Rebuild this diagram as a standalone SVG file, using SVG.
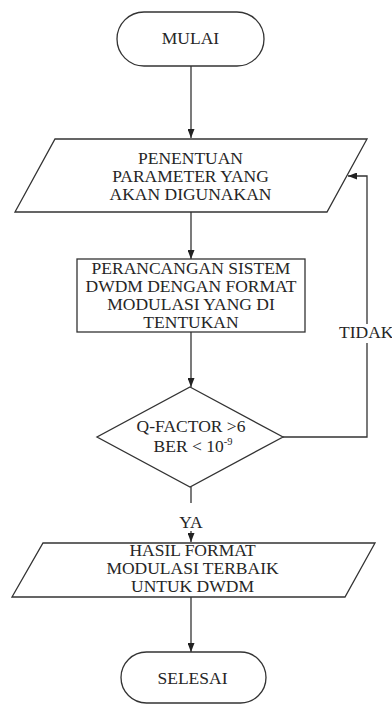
<svg xmlns="http://www.w3.org/2000/svg" width="392" height="704" viewBox="0 0 392 704">
<style>
  .shape { fill: #ffffff; stroke: #333333; stroke-width: 1.3; }
  .line { fill: none; stroke: #333333; stroke-width: 1.3; }
  .txt { font-family: "Liberation Serif", "Times New Roman", serif; font-size: 17.5px; fill: #262626; text-anchor: middle; }
  .lbl { font-family: "Liberation Serif", "Times New Roman", serif; font-size: 17.5px; fill: #262626; }
</style>
<defs>
  <marker id="arrow" markerUnits="userSpaceOnUse" markerWidth="9" markerHeight="7" refX="9" refY="3.5" orient="auto">
    <path d="M0,0 L9,3.5 L0,7 z" fill="#222222"/>
  </marker>
</defs>
<rect width="392" height="704" fill="#ffffff"/>

<g id="connectors">
  <line class="line" x1="191" y1="66" x2="191" y2="138" marker-end="url(#arrow)"/>
  <line class="line" x1="191" y1="212" x2="191" y2="259" marker-end="url(#arrow)"/>
  <line class="line" x1="191" y1="332" x2="191" y2="387" marker-end="url(#arrow)"/>
  <line class="line" x1="191" y1="487" x2="191" y2="503"/>
  <line class="line" x1="191" y1="531" x2="191" y2="542" marker-end="url(#arrow)"/>
  <line class="line" x1="191" y1="597" x2="191" y2="652" marker-end="url(#arrow)"/>
  <polyline class="line" points="283,437 367,437 367,343"/>
  <polyline class="line" points="367,324 367,176 348,176" marker-end="url(#arrow)"/>
  <text class="lbl" x="191" y="528" text-anchor="middle">YA</text>
  <text class="lbl" x="339" y="338">TIDAK</text>
</g>

<g id="mulai">
  <rect class="shape" x="117" y="12" width="147" height="54" rx="27" ry="27"/>
  <text class="txt" x="190.5" y="44">MULAI</text>
</g>

<g id="penentuan">
  <polygon class="shape" points="55,139 367,139 327,212 15,212"/>
  <text class="txt" x="190.5" y="163.5">PENENTUAN</text>
  <text class="txt" x="190.5" y="182">PARAMETER YANG</text>
  <text class="txt" x="190.5" y="200.3">AKAN DIGUNAKAN</text>
</g>

<g id="perancangan">
  <rect class="shape" x="77" y="259" width="228" height="73"/>
  <text class="txt" x="191" y="273.5">PERANCANGAN SISTEM</text>
  <text class="txt" x="191" y="291.8">DWDM DENGAN FORMAT</text>
  <text class="txt" x="191" y="310.1">MODULASI YANG DI</text>
  <text class="txt" x="191" y="328.4">TENTUKAN</text>
</g>

<g id="keputusan">
  <polygon class="shape" points="190,387 283,437 190,487 97,437"/>
  <text class="txt" x="191" y="432">Q-FACTOR &gt;6</text>
  <text class="txt" x="193" y="452">BER &lt; 10<tspan font-size="10.5px" dy="-7">-9</tspan></text>
</g>

<g id="hasil">
  <polygon class="shape" points="43,543 375,543 345,597 12,597"/>
  <text class="txt" x="192.5" y="555.5">HASIL FORMAT</text>
  <text class="txt" x="192.5" y="573.8">MODULASI TERBAIK</text>
  <text class="txt" x="192.5" y="592">UNTUK DWDM</text>
</g>

<g id="selesai">
  <rect class="shape" x="121" y="652" width="145" height="51" rx="25.5" ry="25.5"/>
  <text class="txt" x="192.5" y="683.5">SELESAI</text>
</g>
</svg>
